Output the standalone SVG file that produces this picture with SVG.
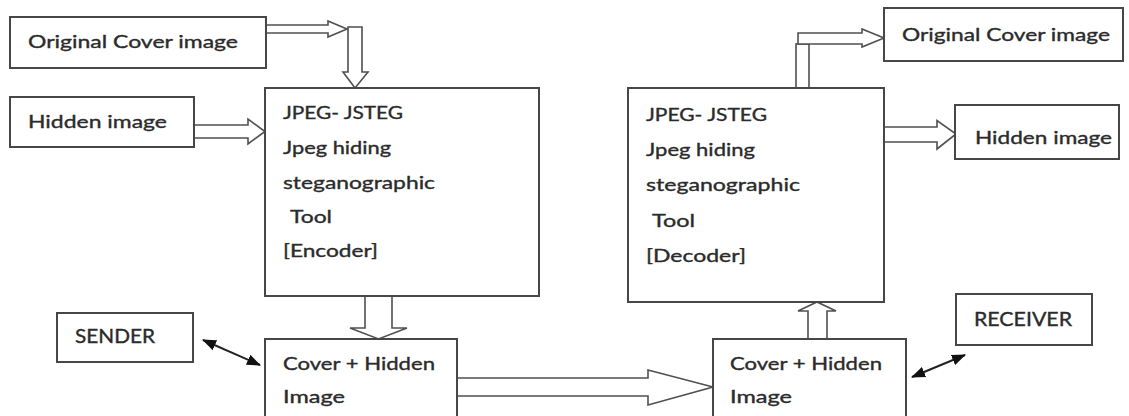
<svg xmlns="http://www.w3.org/2000/svg" width="1129" height="416" viewBox="0 0 1129 416">
  <style>
    .box { fill: #ffffff; stroke: #474747; stroke-width: 2; }
    .blk { fill: #ffffff; stroke: #505050; stroke-width: 1.6; stroke-linejoin: miter; }
    .lbl { font-family: Lato, "Liberation Sans", sans-serif; font-size: 17.5px; fill: #2b2b2b; stroke: #2b2b2b; stroke-width: 0.35px; }
    .cap { font-family: Lato, "Liberation Sans", sans-serif; font-size: 19px; fill: #2b2b2b; stroke: #2b2b2b; stroke-width: 0.35px; }
    .link { stroke: #222222; stroke-width: 2; fill: none; }
  </style>
  <defs>
    <marker id="tri" viewBox="0 0 14 11" refX="13" refY="5.5" markerWidth="14" markerHeight="11" markerUnits="userSpaceOnUse" orient="auto-start-reverse">
      <path d="M0,0 L14,5.5 L0,11 Z" fill="#111111"/>
    </marker>
  </defs>
  <rect width="1129" height="416" fill="#ffffff"/>

  <!-- block arrows and links -->
  <g id="connectors">
    <!-- original cover into encoder (bent) -->
    <polygon class="blk" points="348,27 362,27 362,72 368,72 355,88 343,72 348,72"/>
    <polygon class="blk" points="266,25 328,25 328,21 347,29 328,37 328,33 266,33"/>
    <!-- hidden image into encoder -->
    <polygon class="blk" points="194,125 248,125 248,119 265,131.5 248,144 248,138 194,138"/>
    <!-- encoder down to stego image -->
    <polygon class="blk" points="365,296 392,296 392,328 407,328 378.5,339 350,328 365,328"/>
    <!-- sender stego to receiver stego -->
    <polygon class="blk" points="457,378 648,378 648,370 713,387 648,405 648,396 457,396"/>
    <!-- receiver stego up to decoder -->
    <polygon class="blk" points="808,339 827,339 827,311 836,311 817,302 798,311 808,311"/>
    <!-- decoder to recovered cover (bent) -->
    <rect class="blk" x="796" y="44" width="13" height="44"/>
    <polygon class="blk" points="798,33 862,33 862,29 884,38 862,47 862,44 798,44"/>
    <!-- decoder to recovered hidden image -->
    <polygon class="blk" points="884,127 937,127 937,120.5 956,134 937,149 937,142 884,142"/>
    <!-- sender / receiver links -->
    <line class="link" x1="203" y1="340" x2="260" y2="365" marker-start="url(#tri)" marker-end="url(#tri)"/>
    <line class="link" x1="912" y1="377" x2="965" y2="355" marker-start="url(#tri)" marker-end="url(#tri)"/>
  </g>

  <g id="orig-cover-in">
    <rect class="box" x="10" y="17" width="256" height="51"/>
    <text class="lbl" x="28" y="48" textLength="210" lengthAdjust="spacingAndGlyphs">Original Cover image</text>
  </g>

  <g id="hidden-in">
    <rect class="box" x="10" y="97" width="184" height="50"/>
    <text class="lbl" x="28" y="128" textLength="139" lengthAdjust="spacingAndGlyphs">Hidden image</text>
  </g>

  <g id="encoder">
    <rect class="box" x="265" y="88" width="274" height="208"/>
    <text class="lbl" x="283" y="119" textLength="120" lengthAdjust="spacingAndGlyphs">JPEG- JSTEG</text>
    <text class="lbl" x="283" y="154" textLength="108" lengthAdjust="spacingAndGlyphs">Jpeg hiding</text>
    <text class="lbl" x="283" y="189" textLength="152" lengthAdjust="spacingAndGlyphs">steganographic</text>
    <text class="lbl" x="290" y="223" textLength="42" lengthAdjust="spacingAndGlyphs">Tool</text>
    <text class="lbl" x="283" y="257" textLength="95" lengthAdjust="spacingAndGlyphs">[Encoder]</text>
  </g>

  <g id="sender">
    <rect class="box" x="57" y="313" width="136" height="49"/>
    <text class="cap" x="75" y="343" textLength="80" lengthAdjust="spacingAndGlyphs">SENDER</text>
  </g>

  <g id="stego-sent">
    <rect class="box" x="265" y="339" width="192" height="100"/>
    <text class="lbl" x="283" y="370" textLength="152" lengthAdjust="spacingAndGlyphs">Cover + Hidden</text>
    <text class="lbl" x="283" y="403" textLength="62" lengthAdjust="spacingAndGlyphs">Image</text>
  </g>

  <g id="decoder">
    <rect class="box" x="628" y="88" width="256" height="214"/>
    <text class="lbl" x="646" y="121" textLength="121" lengthAdjust="spacingAndGlyphs">JPEG- JSTEG</text>
    <text class="lbl" x="646" y="156" textLength="109" lengthAdjust="spacingAndGlyphs">Jpeg hiding</text>
    <text class="lbl" x="646" y="191" textLength="154" lengthAdjust="spacingAndGlyphs">steganographic</text>
    <text class="lbl" x="652" y="227" textLength="43" lengthAdjust="spacingAndGlyphs">Tool</text>
    <text class="lbl" x="646" y="262" textLength="100" lengthAdjust="spacingAndGlyphs">[Decoder]</text>
  </g>

  <g id="orig-cover-out">
    <rect class="box" x="884" y="8" width="239" height="53"/>
    <text class="lbl" x="902" y="41" textLength="208" lengthAdjust="spacingAndGlyphs">Original Cover image</text>
  </g>

  <g id="hidden-out">
    <rect class="box" x="955" y="105" width="164" height="54"/>
    <text class="lbl" x="975" y="144" textLength="137" lengthAdjust="spacingAndGlyphs">Hidden image</text>
  </g>

  <g id="receiver">
    <rect class="box" x="956" y="294" width="136" height="51"/>
    <text class="cap" x="974" y="326" textLength="98" lengthAdjust="spacingAndGlyphs">RECEIVER</text>
  </g>

  <g id="stego-received">
    <rect class="box" x="713" y="339" width="193" height="100"/>
    <text class="lbl" x="730" y="370" textLength="152" lengthAdjust="spacingAndGlyphs">Cover + Hidden</text>
    <text class="lbl" x="730" y="403" textLength="62" lengthAdjust="spacingAndGlyphs">Image</text>
  </g>
</svg>
